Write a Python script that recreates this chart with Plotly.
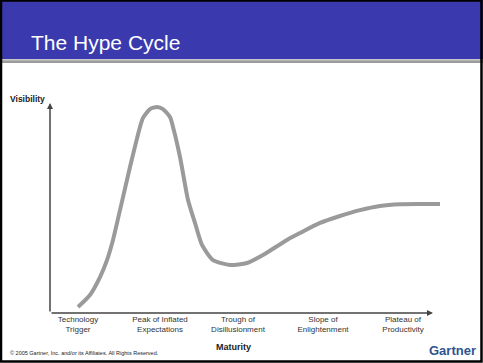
import plotly.graph_objects as go

# Hype cycle curve (maturity vs visibility, arbitrary 0-100 units)
maturity = [7.0, 10.0, 12.5, 14.25, 15.75, 17.5, 20.0, 22.5, 23.25, 25.0, 26.75, 28.25,
            30.0, 30.75, 32.5, 34.5, 36.25, 38.0, 40.75, 45.0, 49.25, 53.25, 59.25,
            62.5, 67.5, 72.5, 77.5, 82.5, 87.5, 92.5, 97.5]
visibility = [2.9, 8.6, 17.1, 25.2, 34.8, 49.0, 69.5, 88.6, 92.9, 97.1, 98.1, 97.1,
              93.3, 88.6, 74.3, 53.8, 42.9, 32.4, 25.2, 22.9, 23.8, 27.6, 34.8,
              38.1, 42.9, 46.2, 49.0, 51.0, 51.8, 51.9, 51.9]

phase_pos = [7.0, 27.5, 47.0, 68.25, 88.25]
phase_labels = ["Technology<br>Trigger", "Peak of Inflated<br>Expectations",
                "Trough of<br>Disillusionment", "Slope of<br>Enlightenment",
                "Plateau of<br>Productivity"]

W, H = 483, 363
L, R, T, B = 50, 33, 103, 50
PW, PH = W - L - R, H - T - B


def px(x):
    return (x - L) / PW


def py(y):
    return (H - B - y) / PH


FONT = "Liberation Sans, Arial, sans-serif"

fig = go.Figure()
fig.add_trace(go.Scatter(x=maturity, y=visibility, mode="lines",
                         line=dict(color="#9a9a9a", width=4, shape="spline", smoothing=0.6),
                         hoverinfo="skip", showlegend=False))

shapes = [
    # header band
    dict(type="rect", xref="paper", yref="paper", x0=px(0), x1=px(W), y0=py(59), y1=py(0),
         fillcolor="#3a3aae", line=dict(width=0), layer="below"),
    dict(type="rect", xref="paper", yref="paper", x0=px(0), x1=px(W), y0=py(63), y1=py(59),
         fillcolor="#9c9c9c", line=dict(width=0), layer="below"),
    dict(type="rect", xref="paper", yref="paper", x0=px(0), x1=px(W), y0=py(60.5), y1=py(59),
         fillcolor="#c8c8c8", line=dict(width=0), layer="below"),
    # frame
    dict(type="rect", xref="paper", yref="paper", x0=px(1), x1=px(481.5), y0=py(361.5), y1=py(0.5),
         line=dict(color="#000000", width=2.5), fillcolor="rgba(0,0,0,0)"),
]

x_end = (433 - L) / PW * 100
annotations = [
    dict(x=x_end, y=0, ax=0, ay=0, xref="x", yref="y", axref="x", ayref="y",
         showarrow=True, arrowhead=2, arrowsize=0.8, arrowwidth=1.5, arrowcolor="#444444", text=""),
    dict(x=0, y=100, ax=0, ay=0, xref="x", yref="y", axref="x", ayref="y",
         showarrow=True, arrowhead=2, arrowsize=0.8, arrowwidth=1.5, arrowcolor="#444444", text=""),
    dict(x=px(29), y=py(43), xref="paper", yref="paper", xanchor="left", yanchor="middle",
         text="The Hype Cycle", showarrow=False, font=dict(family=FONT, size=21, color="white")),
    dict(x=px(8), y=py(99), xref="paper", yref="paper", xanchor="left", yanchor="middle",
         text="<b>Visibility</b>", showarrow=False, font=dict(family=FONT, size=8.5, color="#222222")),
    dict(x=px(233), y=py(347), xref="paper", yref="paper", xanchor="center", yanchor="middle",
         text="<b>Maturity</b>", showarrow=False, font=dict(family=FONT, size=9, color="#222222")),
    dict(x=px(8), y=py(353), xref="paper", yref="paper", xanchor="left", yanchor="middle",
         text="© 2005 Gartner, Inc. and/or its Affiliates. All Rights Reserved.", showarrow=False,
         font=dict(family=FONT, size=5.5, color="#222222")),
    dict(x=px(478), y=py(350), xref="paper", yref="paper", xanchor="right", yanchor="middle",
         text="<b>Gartner</b>", showarrow=False, font=dict(family=FONT, size=13, color="#2f5490")),
]

fig.update_layout(
    width=W, height=H, margin=dict(l=L, r=R, t=T, b=B),
    paper_bgcolor="white", plot_bgcolor="white",
    shapes=shapes, annotations=annotations,
    xaxis=dict(range=[0, 100], showgrid=False, zeroline=False, showline=False,
               tickvals=phase_pos, ticktext=phase_labels, ticks="",
               tickfont=dict(family=FONT, size=8, color="#333333"), fixedrange=True),
    yaxis=dict(range=[0, 100], showgrid=False, zeroline=False, showline=False,
               showticklabels=False, ticks="", fixedrange=True),
)

fig.write_html("out.html", config={"displayModeBar": False},
               post_script="document.body.style.margin='0px';document.body.style.overflow='hidden';")
